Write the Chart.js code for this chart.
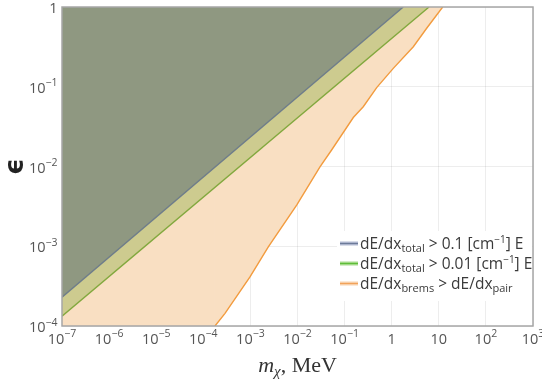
<!DOCTYPE html>
<html>
<head>
<meta charset="utf-8">
<script src="https://cdn.jsdelivr.net/npm/chart.js@4.4.1/dist/chart.umd.min.js"></script>
<style>
html,body{margin:0;padding:0;background:#fff;}
#wrap{position:relative;width:542px;height:381px;}
</style>
</head>
<body>
<div id="wrap"><canvas id="c" width="542" height="381"></canvas></div>
<script>
// ---- data ----
const xTickValues = [1e-7, 1e-6, 1e-5, 1e-4, 1e-3, 1e-2, 1e-1, 1, 10, 100, 1000];
const xTickBase   = ['10','10','10','10','10','10','10','1','10','10','10'];
const xTickExp    = ['−7','−6','−5','−4','−3','−2','−1','','','2','3'];
const yTickValues = [1e-4, 1e-3, 1e-2, 1e-1, 1];
const yTickBase   = ['10','10','10','10','1'];
const yTickExp    = ['−4','−3','−2','−1',''];

const blueMass  = [1e-7, 1.76];
const blueEps   = [2.3e-4, 1];
const greenMass = [1e-7, 6.2];
const greenEps  = [1.33e-4, 1];
const orangeMass = [1e-7, 1.77e-4, 2.89e-4, 9.8e-4, 2.4e-3, 9.6e-3, 0.030, 0.053, 0.153, 0.249, 0.48, 1.08, 2.88, 5.53, 12.1];
const orangeEps  = [1e-4, 1e-4, 1.44e-4, 4.13e-4, 9.8e-4, 3.28e-3, 9.9e-3, 1.61e-2, 4.11e-2, 5.61e-2, 9.77e-2, 0.170, 0.318, 0.541, 1.0];

const legendParts = [
  [['dE/dx',''],['total','sub'],[' > 0.1 [cm',''],['−1','sup'],['] E','']],
  [['dE/dx',''],['total','sub'],[' > 0.01 [cm',''],['−1','sup'],['] E','']],
  [['dE/dx',''],['brems','sub'],[' > dE/dx',''],['pair','sub']]
];
const xTitle = [['m','it'],['χ','itsub'],[', MeV','rm']];
const yTitle = 'ϵ';

const pts = (xs, ys) => xs.map((x, i) => ({x: x, y: ys[i]}));

const FONT = '"Open Sans", "Noto Sans", sans-serif';
const LEG = [
  {fill:'#b3bbd3', line:'#6d7b99'},
  {fill:'#a9dc8f', line:'#5fbd3a'},
  {fill:'#f9d3b0', line:'#f1a35a'}
];

const decorate = {
  id: 'decorate',
  afterDraw(chart) {
    const ctx = chart.ctx, a = chart.chartArea;
    const xs = chart.scales.x, ys = chart.scales.y;
    ctx.save();
    // legend background
    ctx.fillStyle = '#ffffff';
    ctx.fillRect(337, 231, a.right - 338, 70);
    // frame
    ctx.strokeStyle = '#a6a6a6';
    ctx.lineWidth = 1.5;
    ctx.strokeRect(a.left, a.top, a.right - a.left, a.bottom - a.top);

    // tick labels
    ctx.fillStyle = '#555555';
    ctx.textBaseline = 'alphabetic';
    const big = '14.5px ' + FONT, small = '10.5px ' + FONT;
    xTickValues.forEach((v, i) => {
      const px = xs.getPixelForValue(v);
      ctx.font = big; const w1 = ctx.measureText(xTickBase[i]).width;
      ctx.font = small; const w2 = xTickExp[i] ? ctx.measureText(xTickExp[i]).width : 0;
      const x0 = px - (w1 + w2) / 2;
      ctx.textAlign = 'left';
      ctx.font = big; ctx.fillText(xTickBase[i], x0, a.bottom + 17.5);
      if (xTickExp[i]) { ctx.font = small; ctx.fillText(xTickExp[i], x0 + w1, a.bottom + 11); }
    });
    yTickValues.forEach((v, i) => {
      const py = ys.getPixelForValue(v);
      const xr = a.left - 4.5;
      ctx.textAlign = 'left';
      ctx.font = small; const w2 = yTickExp[i] ? ctx.measureText(yTickExp[i]).width : 0;
      ctx.font = big; const w1 = ctx.measureText(yTickBase[i]).width;
      const x0 = xr - w1 - w2;
      ctx.fillText(yTickBase[i], x0, py + 6);
      if (yTickExp[i]) { ctx.font = small; ctx.fillText(yTickExp[i], x0 + w1, py - 0.5); }
    });

    // x title
    const fonts = {
      it: 'italic 22px "Liberation Serif", "DejaVu Serif", serif',
      itsub: 'italic 15px "Liberation Serif", "DejaVu Serif", serif',
      rm: '22px "Liberation Serif", "DejaVu Serif", serif'
    };
    let tw = 0;
    xTitle.forEach(p => { ctx.font = fonts[p[1]]; tw += ctx.measureText(p[0]).width; });
    let tx = (a.left + a.right) / 2 - tw / 2;
    ctx.fillStyle = '#333333';
    xTitle.forEach(p => {
      ctx.font = fonts[p[1]];
      ctx.fillText(p[0], tx, 372 + (p[1] === 'itsub' ? 4 : 0));
      tx += ctx.measureText(p[0]).width;
    });
    // y title
    ctx.save();
    ctx.translate(16, (a.top + a.bottom) / 2);
    ctx.rotate(-Math.PI / 2);
    ctx.textAlign = 'center';
    ctx.textBaseline = 'middle';
    ctx.font = 'bold 26px "DejaVu Sans", sans-serif';
    ctx.fillStyle = '#222222';
    ctx.fillText(yTitle, 0, 0);
    ctx.restore();

    // legend
    const lx = 340, ly0 = 248.5, dy = 20;
    legendParts.forEach((parts, i) => {
      const by = ly0 + i * dy;
      const cy = by - 5;
      ctx.fillStyle = LEG[i].fill;
      ctx.fillRect(lx, cy - 2, 18, 4);
      ctx.strokeStyle = LEG[i].line;
      ctx.lineWidth = 1.2;
      ctx.beginPath(); ctx.moveTo(lx, cy); ctx.lineTo(lx + 18, cy); ctx.stroke();
      let x = lx + 20;
      ctx.fillStyle = '#3a3a3a';
      ctx.textAlign = 'left';
      parts.forEach(p => {
        let f = '15.5px ' + FONT, off = 0;
        if (p[1] === 'sub') { f = '11px ' + FONT; off = 3.5; }
        if (p[1] === 'sup') { f = '10px ' + FONT; off = -6; }
        ctx.font = f;
        ctx.fillText(p[0], x, by + off);
        x += ctx.measureText(p[0]).width;
      });
    });
    ctx.restore();
  }
};

const decades = vals => (scale) => { scale.ticks = vals.map(v => ({value: v})); };

new Chart(document.getElementById('c'), {
  type: 'line',
  data: {
    datasets: [
      { label: 'dE/dx total > 0.1 [cm-1] E', data: pts(blueMass, blueEps),
        borderColor: '#6f7d8a', borderWidth: 1.4, backgroundColor: '#8f9881',
        fill: 'end', pointRadius: 0, tension: 0 },
      { label: 'dE/dx total > 0.01 [cm-1] E', data: pts(greenMass, greenEps),
        borderColor: '#82a83e', borderWidth: 1.4, backgroundColor: '#cdcb8f',
        fill: 'end', pointRadius: 0, tension: 0 },
      { label: 'dE/dx brems > dE/dx pair', data: pts(orangeMass, orangeEps),
        borderColor: '#f29b3e', borderWidth: 1.4, backgroundColor: '#f9dfc2',
        fill: 'end', pointRadius: 0, tension: 0,
        segment: { borderColor: c => c.p0DataIndex === 0 ? 'rgba(0,0,0,0)' : '#f29b3e' } }
    ]
  },
  options: {
    responsive: false,
    animation: false,
    devicePixelRatio: 1,
    layout: { padding: { left: 62, top: 7, right: 9, bottom: 55 } },
    plugins: { legend: { display: false }, tooltip: { enabled: false } },
    scales: {
      x: { type: 'logarithmic', min: 1e-7, max: 1e3, z: 1,
           afterBuildTicks: decades(xTickValues),
           ticks: { display: false },
           grid: { color: 'rgba(0,0,0,0.07)', drawTicks: false, lineWidth: 1 },
           border: { display: false } },
      y: { type: 'logarithmic', min: 1e-4, max: 1, z: 1,
           afterBuildTicks: decades(yTickValues),
           ticks: { display: false },
           grid: { color: 'rgba(0,0,0,0.07)', drawTicks: false, lineWidth: 1 },
           border: { display: false } }
    }
  },
  plugins: [decorate]
});
</script>
</body>
</html>
